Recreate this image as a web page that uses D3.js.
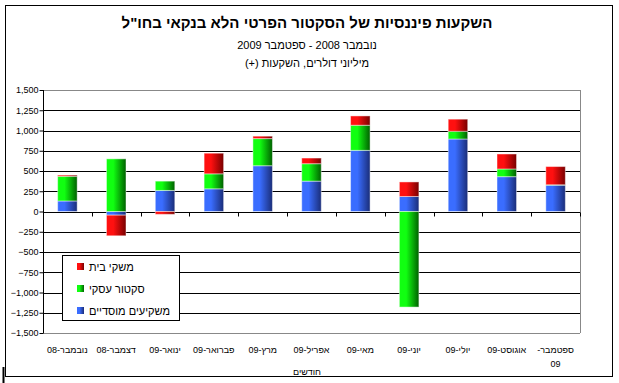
<!DOCTYPE html>
<html>
<head>
<meta charset="utf-8">
<script src="https://cdn.jsdelivr.net/npm/d3@7"></script>
<style>
  body { margin: 0; background: #fff; }
  text { font-family: "Liberation Sans", Arial, sans-serif; fill: #000; }
</style>
</head>
<body>
<svg id="chart" width="619" height="383"></svg>
<script>
// months, shown right-to-left in the source but drawn left-to-right as in the picture
const months = ["נובמבר-08", "דצמבר-08", "ינואר-09", "פברואר-09", "מרץ-09", "אפריל-09",
  "מאי-09", "יוני-09", "יולי-09", "אוגוסט-09", "ספטמבר-09"];

// millions of dollars
const institutional = [130, -45, 260, 280, 565, 375, 755, 185, 895, 430, 325];
const business = [305, 650, 115, 185, 335, 215, 310, -1180, 95, 95, 5];
const households = [15, -255, -35, 255, 30, 70, 115, 180, 150, 185, 225];

const seriesNames = ["משקיעים מוסדיים", "סקטור עסקי", "משקי בית"];
const yTicks = [-1500, -1250, -1000, -750, -500, -250, 0, 250, 500, 750, 1000, 1250, 1500];

const width = 619, height = 383;
const svg = d3.select("#chart");

const rows = months.map((m, i) => ({
  month: m,
  s0: institutional[i],
  s1: business[i],
  s2: households[i]
}));

const keys = ["s0", "s1", "s2"];
const stacked = d3.stack().keys(keys).offset(d3.stackOffsetDiverging)(rows);

const plot = { left: 43, right: 580, top: 90, bottom: 333 };

const x = d3.scaleBand()
  .domain(months)
  .range([plot.left, plot.right])
  .paddingInner(0.6)
  .paddingOuter(0.3);

const y = d3.scaleLinear()
  .domain([-1500, 1500])
  .range([plot.bottom, plot.top]);

// gradients like the old excel bars: bright on the left, dark on the right
const grads = [
  { id: "g0", from: "#3a6dff", to: "#1a2d78" },
  { id: "g1", from: "#11ff11", to: "#006000" },
  { id: "g2", from: "#ff1010", to: "#780000" }
];
const defs = svg.append("defs");
grads.forEach(g => {
  const lg = defs.append("linearGradient").attr("id", g.id)
    .attr("x1", "0%").attr("x2", "100%").attr("y1", "0%").attr("y2", "0%");
  lg.append("stop").attr("offset", "0%").attr("stop-color", g.from);
  lg.append("stop").attr("offset", "35%").attr("stop-color", g.from);
  lg.append("stop").attr("offset", "100%").attr("stop-color", g.to);
});

// outer frame
svg.append("rect")
  .attr("x", 5.5).attr("y", 5.5)
  .attr("width", 607).attr("height", 371)
  .attr("fill", "none").attr("stroke", "#000").attr("stroke-width", 1);
svg.append("line")
  .attr("x1", 3.5).attr("x2", 3.5).attr("y1", 367).attr("y2", 383)
  .attr("stroke", "#000").attr("stroke-width", 2);

// titles
svg.append("text")
  .attr("x", 307).attr("y", 28)
  .attr("text-anchor", "middle")
  .attr("font-size", 15).attr("font-weight", "bold")
  .text("השקעות פיננסיות של הסקטור הפרטי הלא בנקאי בחו\"ל");
svg.append("text")
  .attr("x", 307).attr("y", 49)
  .attr("text-anchor", "middle").attr("direction", "rtl")
  .attr("font-size", 11)
  .text("נובמבר 2008 - ספטמבר 2009");
svg.append("text")
  .attr("x", 307).attr("y", 67)
  .attr("text-anchor", "middle").attr("direction", "rtl")
  .attr("font-size", 11)
  .text("מיליוני דולרים, השקעות (+)");

// gridlines
svg.append("g")
  .selectAll("line")
  .data(yTicks)
  .join("line")
  .attr("x1", plot.left).attr("x2", plot.right)
  .attr("y1", d => Math.round(y(d)) + 0.5)
  .attr("y2", d => Math.round(y(d)) + 0.5)
  .attr("stroke", d => (d === 1500 || d === -1500) ? "#888" : "#000")
  .attr("stroke-width", 1);

// right border of plot
svg.append("line")
  .attr("x1", plot.right + 0.5).attr("x2", plot.right + 0.5)
  .attr("y1", plot.top).attr("y2", plot.bottom)
  .attr("stroke", "#888");

// bars
svg.append("g")
  .selectAll("g")
  .data(stacked)
  .join("g")
  .attr("fill", (d, i) => `url(#${grads[i].id})`)
  .selectAll("rect")
  .data(d => d)
  .join("rect")
  .attr("x", d => x(d.data.month))
  .attr("width", x.bandwidth())
  .attr("y", d => y(Math.max(d[0], d[1])))
  .attr("height", d => Math.abs(y(d[0]) - y(d[1])))
  .attr("stroke", "#fff")
  .attr("stroke-opacity", 0.45)
  .attr("stroke-width", 1);

// y axis
const yAxis = d3.axisLeft(y)
  .tickValues(yTicks)
  .tickSize(4)
  .tickFormat(d3.format(","));
const yg = svg.append("g")
  .attr("transform", `translate(${plot.left + 0.5},0)`)
  .call(yAxis);
yg.select(".domain").attr("stroke", "#000").attr("d", `M0,${plot.top}V${plot.bottom}`);
yg.selectAll(".tick line").attr("stroke", "#000");
yg.selectAll(".tick text")
  .attr("font-family", "\"Liberation Sans\", Arial, sans-serif")
  .attr("font-size", 9).attr("fill", "#000").attr("x", -5);

// category ticks on the zero line
const bounds = months.map((m, i) => plot.left + (i + 1) * x.step() - x.step() * 0 + (x.step() * x.paddingOuter() - x.step() * x.paddingOuter()));
svg.append("g")
  .selectAll("line")
  .data(d3.range(1, months.length + 1))
  .join("line")
  .attr("x1", i => Math.round(plot.left + (plot.right - plot.left) * i / months.length) + 0.5)
  .attr("x2", i => Math.round(plot.left + (plot.right - plot.left) * i / months.length) + 0.5)
  .attr("y1", Math.round(y(0)) + 0.5)
  .attr("y2", Math.round(y(0)) + 4.5)
  .attr("stroke", "#000");

// month labels
const labels = svg.append("g")
  .selectAll("text")
  .data(months)
  .join("text")
  .attr("x", d => x(d) + x.bandwidth() / 2)
  .attr("y", 353)
  .attr("text-anchor", "middle")
  .attr("direction", "rtl")
  .attr("font-size", 9);
labels.each(function(d, i) {
  const t = d3.select(this);
  if (i === months.length - 1) {
    const parts = d.split("-");
    t.append("tspan").attr("x", x(d) + x.bandwidth() / 2).text(parts[0] + "-");
    t.append("tspan").attr("x", x(d) + x.bandwidth() / 2).attr("dy", 14).text(parts[1]);
  } else {
    t.text(d);
  }
});

svg.append("text")
  .attr("x", 307).attr("y", 375)
  .attr("text-anchor", "middle")
  .attr("font-size", 9)
  .text("חודשים");

// legend, households on top
const legend = svg.append("g");
legend.append("rect")
  .attr("x", 62.5).attr("y", 255.5)
  .attr("width", 117).attr("height", 65)
  .attr("fill", "#fff").attr("stroke", "#000");
const legendItems = [2, 1, 0];
legendItems.forEach((k, j) => {
  const cy = 267 + j * 22;
  legend.append("rect")
    .attr("x", 77).attr("y", cy - 4)
    .attr("width", 7).attr("height", 7)
    .attr("fill", `url(#${grads[k].id})`);
  legend.append("text")
    .attr("x", 89).attr("y", cy + 4)
    .attr("font-size", 11)
    .text(seriesNames[k]);
});
</script>
</body>
</html>
